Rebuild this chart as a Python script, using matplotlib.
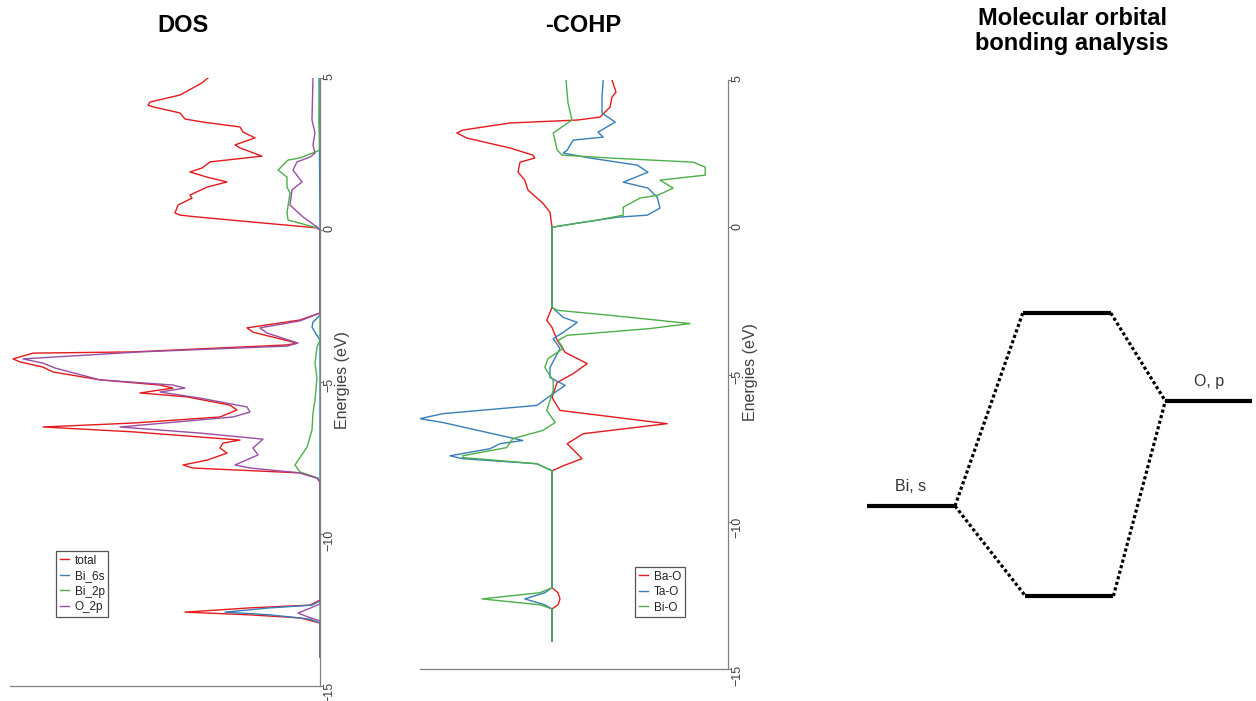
import matplotlib.pyplot as plt

plt.rcParams['font.family'] = ['Liberation Sans', 'DejaVu Sans']

# ---- DOS data (energy in eV, DOS in arbitrary units) ----
total_E = [5.00, 4.84, 4.44, 4.21, 4.11, 4.05, 3.85, 3.65, 3.55, 3.39,
           3.22, 3.03, 2.80, 2.70, 2.43, 2.24, 2.04, 1.91, 1.74, 1.58,
           1.41, 1.15, 1.05, 0.82, 0.56, 0.49, 0.43, 0.23, 0.07, 0.00,
           -2.73, -2.96, -3.22, -3.36, -3.72, -3.78, -4.01, -4.05, -4.24, -4.34,
           -4.51, -4.67, -4.93, -5.10, -5.20, -5.36, -5.49, -5.76, -5.92, -6.15,
           -6.35, -6.48, -6.64, -6.91, -7.01, -7.17, -7.34, -7.57, -7.73, -7.83,
           -7.99, -8.16, -8.29,
           -12.17, -12.34, -12.43, -12.57, -12.66, -12.76, -12.93, -14.05]
total_v = [11.2, 11.8, 14.0, 17.0, 17.2, 16.7, 14.0, 13.5, 11.7, 8.0,
           7.7, 6.5, 8.5, 8.0, 5.8, 11.0, 11.8, 13.0, 11.3, 9.3,
           11.3, 13.0, 12.8, 14.2, 14.5, 14.0, 12.3, 5.7, 0.3, 0.0,
           0.0, 2.0, 7.3, 6.7, 2.3, 3.3, 18.7, 28.7, 30.7, 30.0,
           27.7, 26.7, 22.0, 16.0, 14.7, 18.0, 13.3, 9.0, 8.3, 10.0,
           18.7, 27.7, 18.7, 8.0, 9.7, 10.0, 9.3, 11.3, 13.7, 12.7,
           2.0, 0.3, 0.0,
           0.0, 1.0, 7.0, 13.5, 7.0, 2.0, 0.0, 0.0]

bi6s_E = [5.00, 0.00, -2.80, -3.03, -3.19, -3.42, -3.62,
          -12.20, -12.34, -12.43, -12.57, -12.66, -12.80, -12.93, -14.05]
bi6s_v = [0.1, 0.0, 0.0, 0.7, 0.8, 0.4, 0.0,
          0.0, 0.8, 5.0, 9.5, 5.0, 1.0, 0.0, 0.0]

bi2p_E = [5.00, 3.62, 2.63, 2.37, 2.30, 1.97, 1.74, 1.41, 1.22, 0.56,
          0.33, 0.07, 0.00, -3.62, -3.85, -4.38, -4.87, -5.59, -6.02, -6.58,
          -7.14, -7.73, -7.96, -8.16, -8.29, -14.05]
bi2p_v = [0.0, 0.1, 0.0, 2.0, 3.2, 4.2, 3.3, 3.3, 3.0, 3.3,
          3.2, 0.3, 0.0, 0.0, 0.3, 0.5, 0.3, 0.5, 0.7, 0.8,
          1.3, 2.5, 2.0, 0.2, 0.0, 0.0]

o2p_E = [5.00, 3.62, 3.19, 2.80, 2.53, 2.40, 2.24, 1.97, 1.58, 1.32,
         0.82, 0.43, 0.10, 0.00,
         -2.73, -2.99, -3.22, -3.39, -3.72, -3.82, -4.01, -4.24, -4.38, -4.54,
         -4.93, -5.10, -5.20, -5.33, -5.53, -5.82, -5.99, -6.15, -6.48, -6.68,
         -6.88, -7.17, -7.40, -7.73, -7.83, -7.99, -8.16, -8.29,
         -12.30, -12.47, -12.60, -12.73, -12.86, -14.05]
o2p_v = [0.7, 0.8, 0.5, 0.7, 0.5, 1.0, 2.3, 2.7, 1.8, 2.8,
         3.0, 1.7, 0.3, 0.0,
         0.0, 2.0, 6.0, 5.3, 2.2, 3.3, 18.0, 29.7, 27.7, 26.5,
         22.0, 14.7, 13.5, 16.0, 12.0, 7.3, 7.0, 8.7, 20.0, 12.0,
         5.7, 6.7, 6.2, 8.5, 7.0, 2.0, 0.3, 0.0,
         0.0, 1.2, 2.2, 1.2, 0.0, 0.0]

# ---- -COHP data ----
bao_E = [5.00, 4.59, 4.42, 4.08, 3.74, 3.64, 3.54, 3.30, 3.20, 3.03,
         2.69, 2.45, 2.35, 2.21, 1.87, 1.60, 1.26, 0.82, 0.51, 0.00,
         -2.72, -3.16, -3.40, -3.84, -4.25, -4.63, -4.97, -5.27, -5.78, -6.22,
         -6.67, -7.01, -7.35, -7.69, -7.86, -8.10, -8.27,
         -12.24, -12.41, -12.62, -12.82, -12.96, -14.05]
bao_v = [1.50, 1.60, 1.50, 1.45, 1.20, 0.63, -1.05, -2.23, -2.38, -2.13,
         -1.05, -0.48, -0.43, -0.80, -0.85, -0.68, -0.60, -0.23, -0.05, 0.00,
         0.00, -0.13, 0.00, 0.13, 0.33, 0.88, 0.53, 0.13, 0.00, 0.20,
         2.88, 0.78, 0.38, 0.63, 0.75, 0.28, 0.00,
         0.00, 0.15, 0.20, 0.15, 0.00, 0.00]

tao_E = [5.00, 4.42, 3.88, 3.57, 3.23, 3.06, 2.96, 2.62, 2.52, 2.35,
         2.11, 1.87, 1.53, 1.33, 1.02, 0.65, 0.41, 0.34, 0.14, 0.00,
         -2.72, -3.06, -3.23, -3.57, -3.78, -4.12, -4.76, -5.10, -5.37, -5.65,
         -6.05, -6.33, -6.50, -6.63, -7.24, -7.35, -7.52, -7.76, -7.86, -8.03,
         -8.27,
         -12.24, -12.41, -12.62, -12.82, -12.96, -14.05]
tao_v = [1.28, 1.25, 1.25, 1.58, 1.15, 1.28, 0.53, 0.38, 0.28, 0.95,
         2.13, 2.40, 1.78, 2.40, 2.63, 2.70, 2.38, 1.63, 0.63, 0.00,
         0.00, 0.28, 0.63, 0.28, 0.03, 0.20, -0.05, -0.05, 0.33, 0.03,
         -0.38, -2.73, -3.30, -2.73, -0.73, -1.30, -1.55, -2.55, -2.23, -0.38,
         0.00,
         0.00, -0.18, -0.68, -0.18, 0.00, 0.00]

bio_E = [5.00, 4.22, 3.64, 3.20, 2.62, 2.45, 2.35, 2.21, 2.04, 1.77,
         1.60, 1.33, 1.09, 0.99, 0.68, 0.41, 0.24, 0.00,
         -2.72, -2.82, -2.99, -3.27, -3.44, -3.67, -3.84, -4.12, -4.46, -4.76,
         -5.20, -5.54, -6.22, -6.63, -6.90, -7.18, -7.48, -7.76, -7.82, -8.03,
         -8.27,
         -12.24, -12.41, -12.62, -12.82, -12.96, -14.05]
bio_v = [0.35, 0.40, 0.50, 0.03, 0.13, 0.25, 1.45, 3.53, 3.83, 3.83,
         2.70, 3.03, 2.65, 2.20, 1.78, 1.78, 1.13, 0.00,
         0.00, 0.13, 1.45, 3.45, 2.45, 0.38, 0.15, 0.28, -0.10, -0.18,
         0.03, 0.03, -0.13, 0.08, -0.23, -0.98, -1.13, -2.23, -2.23, -0.38,
         0.00,
         0.00, -0.30, -1.75, -0.30, 0.00, 0.00]

# ---- schematic MO levels ----
mo_labels = ['Bi, s', '', '', 'O, p']
mo_left = [0.0, 1.77, 1.80, 3.39]
mo_right = [1.0, 2.77, 2.80, 4.38]
mo_energy = [0.0, 1.93, -0.90, 1.05]
# (from level, to level) pairs for the dotted correlation lines
mo_links = [(0, 1), (0, 2), (1, 3), (2, 3)]

red, blue, green, purple = '#e41a1c', '#377eb8', '#4daf4a', '#984ea3'
axis_grey = '#808080'
text_grey = '#404040'


def energy_axis(ax):
    ax.spines['top'].set_visible(False)
    ax.spines['left'].set_visible(False)
    for s in ['right', 'bottom']:
        ax.spines[s].set_color(axis_grey)
        ax.spines[s].set_linewidth(0.9)
    ax.yaxis.tick_right()
    ax.set_ylim(-15, 5)
    ax.set_yticks([5, 0, -5, -10, -15])
    ax.tick_params(axis='y', labelrotation=90, labelsize=9, color=axis_grey,
                   labelcolor=text_grey, length=2, pad=0.5)
    ax.tick_params(axis='x', bottom=False, labelbottom=False)


fig = plt.figure(figsize=(12.56, 7.01), dpi=100)

# DOS panel
ax1 = fig.add_axes([10 / 1256, 1 - 686 / 701, 310 / 1256, 608 / 701])
lw = 1.0
ax1.plot(total_v, total_E, color=red, lw=lw, label='total')
ax1.plot(bi6s_v, bi6s_E, color=blue, lw=lw, label='Bi_6s')
ax1.plot(bi2p_v, bi2p_E, color=green, lw=lw, label='Bi_2p')
ax1.plot(o2p_v, o2p_E, color=purple, lw=lw, label='O_2p')
ax1.set_xlim(31, 0)
energy_axis(ax1)
leg1 = ax1.legend(loc='upper left', bbox_to_anchor=(56 / 1256, 1 - 551 / 701),
                  bbox_transform=fig.transFigure, borderaxespad=0, fontsize=8.5,
                  handlelength=0.8, handletextpad=0.5, labelspacing=0.3,
                  borderpad=0.3, fancybox=False, framealpha=1, edgecolor='#555555')
leg1.get_frame().set_linewidth(0.9)
for t in leg1.get_texts():
    t.set_color('#222222')
fig.text(343 / 1256, 1 - 380 / 701, 'Energies (eV)', rotation=90,
         ha='center', va='center', fontsize=11.5, color=text_grey)

# -COHP panel
ax2 = fig.add_axes([420 / 1256, 1 - 669 / 701, 308 / 1256, 589 / 701])
ax2.plot(bao_v, bao_E, color=red, lw=lw, label='Ba-O')
ax2.plot(tao_v, tao_E, color=blue, lw=lw, label='Ta-O')
ax2.plot(bio_v, bio_E, color=green, lw=lw, label='Bi-O')
ax2.set_xlim(-3.3, 4.4)
energy_axis(ax2)
leg2 = ax2.legend(loc='upper left', bbox_to_anchor=(635 / 1256, 1 - 567 / 701),
                  bbox_transform=fig.transFigure, borderaxespad=0, fontsize=8.5,
                  handlelength=0.8, handletextpad=0.5, labelspacing=0.3,
                  borderpad=0.3, fancybox=False, framealpha=1, edgecolor='#555555')
leg2.get_frame().set_linewidth(0.9)
for t in leg2.get_texts():
    t.set_color('#222222')
fig.text(751 / 1256, 1 - 372 / 701, 'Energies (eV)', rotation=90,
         ha='center', va='center', fontsize=11.5, color=text_grey)

# MO diagram
ax3 = fig.add_axes([850 / 1256, 1 - 650 / 701, 406 / 1256, 400 / 701])
ax3.set_xlim(-0.193, 4.42)
ax3.set_ylim(-1.44, 2.56)
ax3.axis('off')
for a, b in mo_links:
    ax3.plot([mo_right[a], mo_left[b]], [mo_energy[a], mo_energy[b]],
             color='black', lw=2.3, linestyle=(0, (1, 0.8)), dash_capstyle='butt')
for i in range(len(mo_energy)):
    ax3.plot([mo_left[i], mo_right[i]], [mo_energy[i], mo_energy[i]],
             color='black', lw=3, solid_capstyle='butt', clip_on=False)
    if mo_labels[i]:
        ax3.text((mo_left[i] + mo_right[i]) / 2, mo_energy[i] + 0.12, mo_labels[i],
                 ha='center', va='bottom', fontsize=11.5, color='#333333')

# titles
fig.text(183 / 1256, 1 - 25 / 701, 'DOS', ha='center', va='center',
         fontsize=17, fontweight='bold')
fig.text(583 / 1256, 1 - 25 / 701, '-COHP', ha='center', va='center',
         fontsize=17, fontweight='bold')
fig.text(1072 / 1256, 1 - 31 / 701, 'Molecular orbital\nbonding analysis',
         ha='center', va='center', fontsize=17, fontweight='bold',
         linespacing=1.1)

fig.savefig('out.png', dpi=100)
